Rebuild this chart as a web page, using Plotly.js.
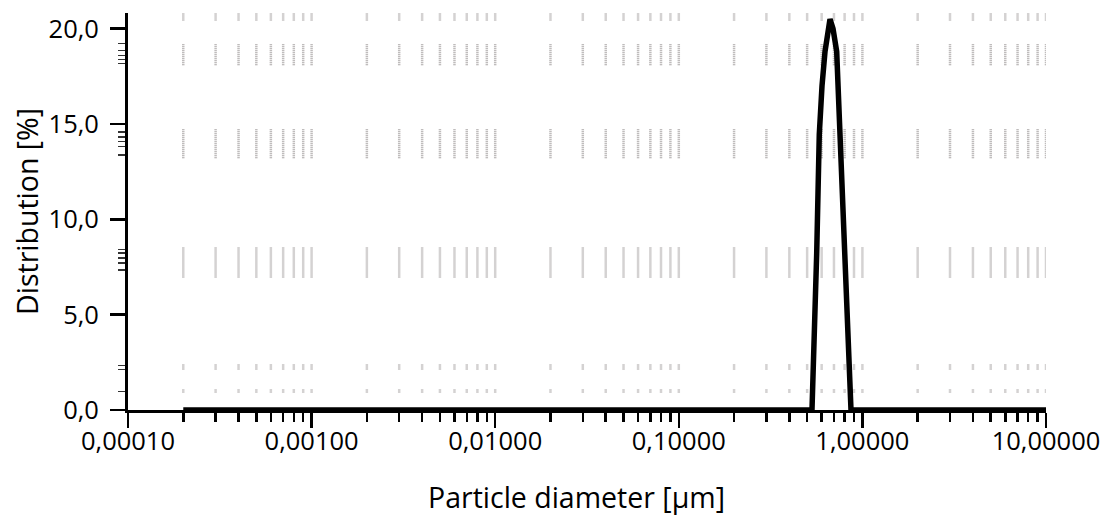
<!DOCTYPE html>
<html>
<head>
<meta charset="utf-8">
<script src="https://cdn.plot.ly/plotly-3.0.1.min.js"></script>
<style>html,body{margin:0;padding:0;background:#fff}#chart{width:1109px;height:522px}</style>
</head>
<body>
<div id="chart"></div>
<script>
// Particle diameter [µm] and distribution [%]
var diameter = [0.0002, 0.0005, 0.001, 0.01, 0.1, 0.5314, 0.5637, 0.5823, 0.6026, 0.6257, 0.6661, 0.6917, 0.7244, 0.7551, 0.8040, 0.8668, 1, 10];
var distribution = [0, 0, 0, 0, 0, 0, 8.2, 14.45, 17.0, 18.8, 20.5, 20.0, 18.8, 14.45, 8.2, 0, 0, 0];

var xTickVals = [0.0001, 0.001, 0.01, 0.1, 1, 10];
var xTickText = ["0,00010", "0,00100", "0,01000", "0,10000", "1,00000", "10,00000"];
var xMinorVals = [0.0002,0.0003,0.0004,0.0005,0.0006,0.0007,0.0008,0.0009,
                  0.002,0.003,0.004,0.005,0.006,0.007,0.008,0.009,
                  0.02,0.03,0.04,0.05,0.06,0.07,0.08,0.09,
                  0.2,0.3,0.4,0.5,0.6,0.7,0.8,0.9,
                  2,3,4,5,6,7,8,9];
var yTickVals = [0, 5, 10, 15, 20];
var yTickText = ["0,0", "5,0", "10,0", "15,0", "20,0"];
var yMinorVals = [0.98, 2.12, 2.34, 7.35, 7.7, 7.96, 8.23, 8.43, 13.37, 13.81, 14.07, 14.33, 14.59, 18.17, 18.38, 18.6, 18.86, 19.21];
// vertical grid positions and the y bands where the grid is visible
var gridX = [0.0002,0.0003,0.0004,0.0005,0.0006,0.0007,0.0008,0.0009,0.001,
             0.002,0.003,0.004,0.005,0.006,0.007,0.008,0.009,0.01,
             0.02,0.03,0.04,0.05,0.06,0.07,0.08,0.09,0.1,
             0.2,0.3,0.4,0.5,0.6,0.7,0.8,0.9,1,
             2,3,4,5,6,7,8,9,10];
var gridBandLow  = [0.92, 2.12, 6.95, 13.2, 18.08, 20.43];
var gridBandHigh = [1.07, 2.38, 8.55, 14.77, 19.21, 20.85];

var shapes = [];
gridX.forEach(function (gx) {
  for (var i = 0; i < gridBandLow.length; i++) {
    shapes.push({type: 'line', xref: 'x', yref: 'y', layer: 'below',
      x0: gx, x1: gx, y0: gridBandLow[i], y1: gridBandHigh[i],
      line: {color: '#aaa6a6', width: 2.5, dash: '1px,1px'}});
  }
});

var font = 'Open Sans, Noto Sans, sans-serif';
var trace = {
  x: diameter, y: distribution, type: 'scatter', mode: 'lines',
  line: {color: '#000', width: 5.5}, hoverinfo: 'skip', showlegend: false
};

var layout = {
  width: 1109, height: 522,
  margin: {l: 128, r: 63, t: 13, b: 111.5, pad: 0},
  paper_bgcolor: '#fff', plot_bgcolor: '#fff',
  font: {family: font, color: '#000', size: 25.5},
  shapes: shapes,
  annotations: [{
    text: 'Particle diameter [µm]', xref: 'paper', yref: 'paper',
    x: 0.489, y: 0, xanchor: 'center', yanchor: 'middle', yshift: -87,
    showarrow: false, font: {family: font, size: 28.5, color: '#000'}
  }],
  xaxis: {
    type: 'log', range: [-4, 1],
    tickmode: 'array', tickvals: xTickVals, ticktext: xTickText,
    ticks: 'outside', ticklen: 15, tickwidth: 2.5, tickcolor: '#000',
    showline: true, linecolor: '#000', linewidth: 3,
    showgrid: false, zeroline: false,
    ticklabelstandoff: -9,
    tickfont: {family: font, size: 25.5, color: '#000'},
    minor: {tickmode: 'array', tickvals: xMinorVals, ticks: 'outside', ticklen: 9, tickwidth: 2.5, tickcolor: '#000', showgrid: false}
  },
  yaxis: {
    range: [0, 20.82],
    tickmode: 'array', tickvals: yTickVals, ticktext: yTickText,
    ticks: 'outside', ticklen: 15, tickwidth: 2.5, tickcolor: '#000',
    showline: true, linecolor: '#000', linewidth: 3,
    showgrid: false, zeroline: false,
    ticklabelstandoff: 6,
    tickfont: {family: font, size: 25.5, color: '#000'},
    minor: {tickmode: 'array', tickvals: yMinorVals, ticks: 'outside', ticklen: 7, tickwidth: 1.5, tickcolor: '#333', showgrid: false},
    title: {text: 'Distribution [%]', font: {family: font, size: 28.5, color: '#000'}, standoff: 2}
  }
};

Plotly.newPlot('chart', [trace], layout, {displayModeBar: false, staticPlot: true});
</script>
</body>
</html>
